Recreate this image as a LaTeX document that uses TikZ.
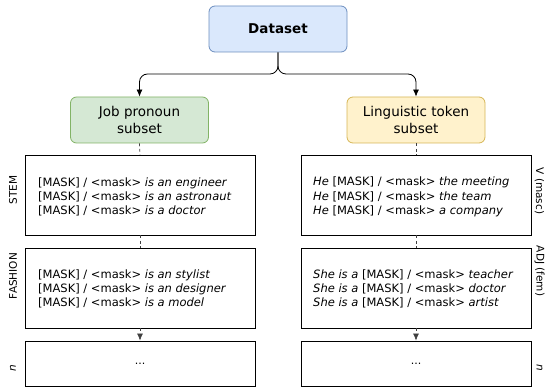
\documentclass[tikz,border=0pt]{standalone}
\usepackage{fontspec}
\setmainfont{DejaVu Sans}
\usetikzlibrary{arrows.meta}
\definecolor{dsfill}{HTML}{DAE8FC}\definecolor{dsline}{HTML}{6C8EBF}
\definecolor{gfill}{HTML}{D5E8D4}\definecolor{gline}{HTML}{82B366}
\definecolor{yfill}{HTML}{FFF2CC}\definecolor{yline}{HTML}{D6B656}
\tikzset{
  topbox/.style={draw, rounded corners=6pt, line width=0.8pt, minimum width=138pt, minimum height=46pt, align=center, inner sep=0pt, font=\fontsize{13.5}{17}\selectfont},
  panel/.style={draw, line width=0.8pt, minimum width=230pt, minimum height=80pt, inner sep=0pt},
  nbox/.style={draw, line width=0.8pt, minimum width=230pt, minimum height=45pt, inner sep=0pt},
  lines/.style={align=left, inner sep=0pt, anchor=west, font=\fontsize{11.5}{14.3}\selectfont},
  sidelab/.style={inner sep=0pt, font=\fontsize{10.5}{12}\selectfont},
  conn/.style={line width=0.8pt, rounded corners=8pt, -{Latex[length=7pt,width=6pt]}},
  dashc/.style={line width=0.7pt, draw=black!75, dash pattern=on 3pt off 2.5pt},
}
\begin{document}
\begin{tikzpicture}[x=1pt,y=-1pt]
\useasboundingbox (0,0) rectangle (546,387);
\node[topbox, fill=dsfill, draw=dsline, font=\fontsize{13.5}{15}\selectfont\bfseries] (ds) at (278,29) {Dataset};
\node[topbox, fill=gfill, draw=gline] (jp) at (139.5,120) {Job pronoun\\subset};
\node[topbox, fill=yfill, draw=yline] (lt) at (416,120) {Linguistic token\\subset};
\node[panel] (stem) at (140,195) {};
\node[panel] (fash) at (140,288) {};
\node[nbox] (nl) at (140,363.5) {\fontsize{11}{12}\selectfont...};
\node[panel] (vm) at (416,195) {};
\node[panel] (adj) at (416,288) {};
\node[nbox] (nr) at (416,363.5) {\fontsize{11}{12}\selectfont...};
\node[lines] (t1) at (38,197) {[MASK] / <mask> \textit{is an engineer}\\\relax [MASK] / <mask> \textit{is an astronaut}\\\relax [MASK] / <mask> \textit{is a doctor}};
\node[lines] (t2) at (38,289) {[MASK] / <mask> \textit{is an stylist}\\\relax [MASK] / <mask> \textit{is an designer}\\\relax [MASK] / <mask> \textit{is a model}};
\node[lines] (t3) at (313,197) {\textit{He} [MASK] / <mask> \textit{the meeting}\\\textit{He} [MASK] / <mask> \textit{the team}\\\textit{He} [MASK] / <mask> \textit{a company}};
\node[lines] (t4) at (313,289) {\textit{She is a} [MASK] / <mask> \textit{teacher}\\\textit{She is a} [MASK] / <mask> \textit{doctor}\\\textit{She is a} [MASK] / <mask> \textit{artist}};
\node[sidelab, rotate=90] (l1) at (13,190) {STEM};
\node[sidelab, rotate=90] (l2) at (13,276) {FASHION};
\node[sidelab, rotate=90] (l3) at (13,368) {\textit{n}};
\node[sidelab, rotate=-90] (r1) at (539.5,191) {V (masc)};
\node[sidelab, rotate=-90] (r2) at (539.5,271) {ADJ (fem)};
\node[sidelab, rotate=-90] (r3) at (539.5,368) {\textit{n}};
\coordinate (j) at (278,74);
\draw[conn] (ds.south) -- (j) -| (jp.north);
\draw[conn] (ds.south) -- (j) -| (lt.north);
\draw[dashc] (jp.south) -- (stem.north);
\draw[dashc] (stem.south) -- (fash.north);
\draw[dashc, -{Latex[length=7pt,width=6pt]}] (fash.south) -- (nl.north);
\draw[dashc] (lt.south) -- (vm.north);
\draw[dashc] (vm.south) -- (adj.north);
\draw[dashc, -{Latex[length=7pt,width=6pt]}] (adj.south) -- (nr.north);
\end{tikzpicture}
\end{document}
